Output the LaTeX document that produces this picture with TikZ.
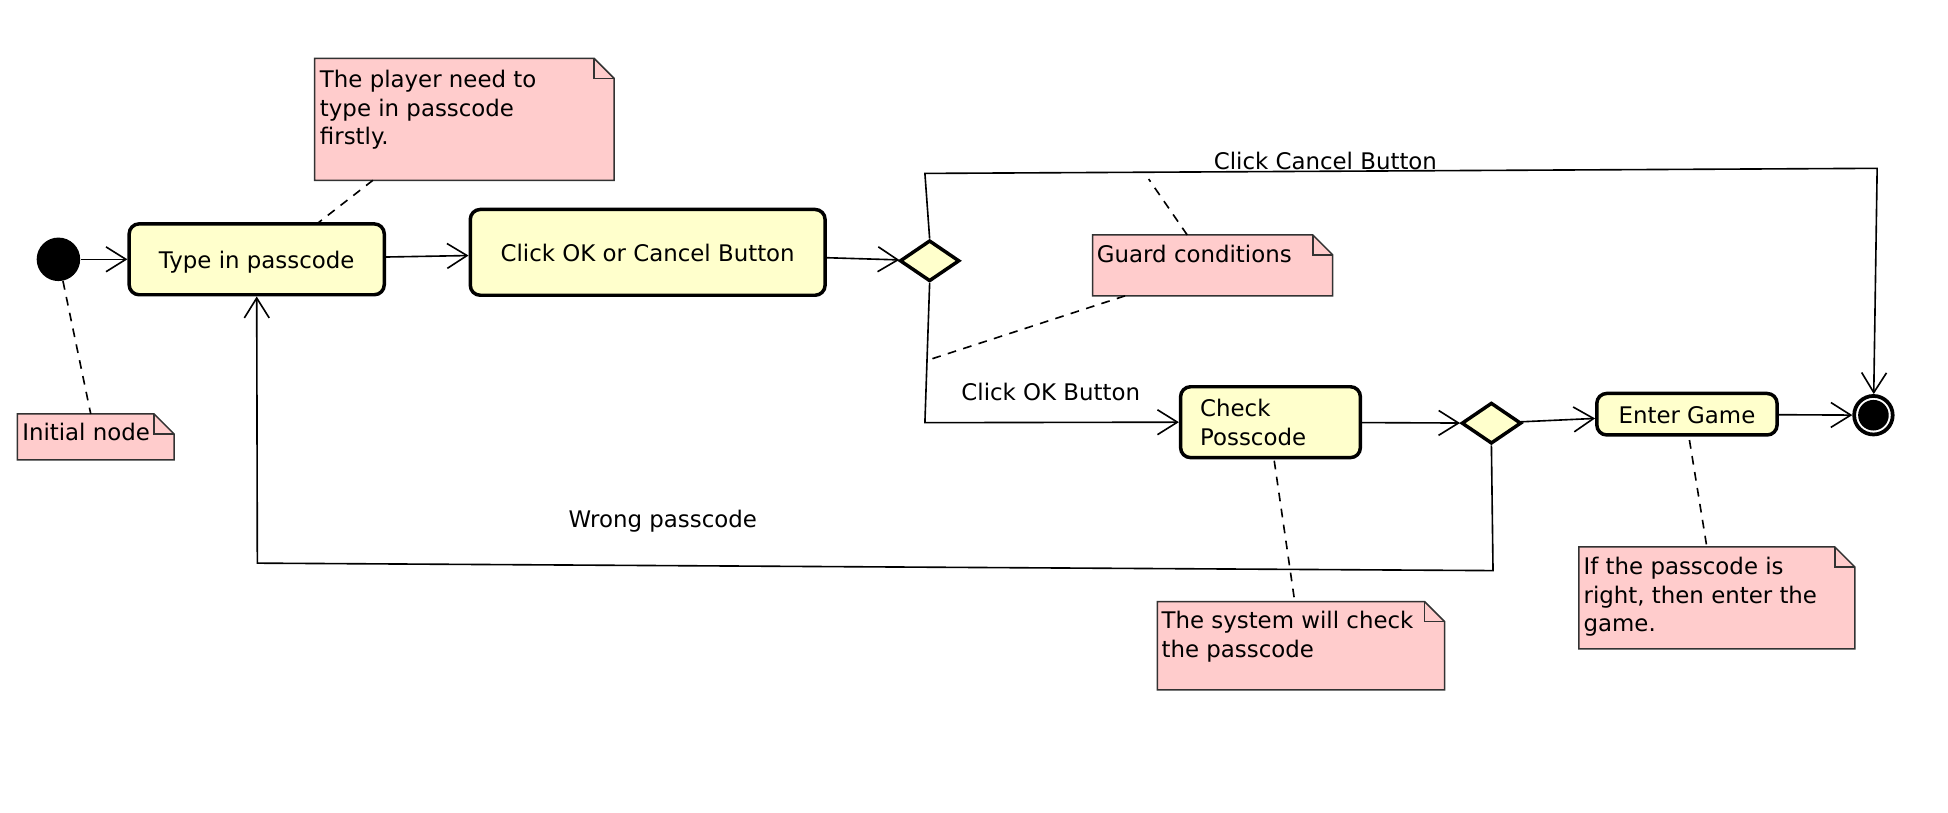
\documentclass[tikz,border=0pt]{standalone}
\usepackage{fontspec}
\setmainfont{DejaVu Sans}
\usetikzlibrary{arrows.meta,shapes.geometric,fit}
\definecolor{actfill}{RGB}{255,255,204}
\definecolor{notefill}{RGB}{255,204,204}
\definecolor{notedraw}{RGB}{50,50,50}
\newcommand\umlnote[5]{%
  \node[inner sep=0pt, outer sep=0pt, fit={(#2,#3) (#4,#5)}] (#1) {};
  \draw[notebody] (#1.north west) -- ([xshift=-8pt]#1.north east) -- ([yshift=-8pt]#1.north east) -- (#1.south east) -- (#1.south west) -- cycle;
  \draw[notebody,fill=none] ([xshift=-8pt]#1.north east) |- ([yshift=-8pt]#1.north east);
}
\begin{document}
\begin{tikzpicture}[x=0.5pt,y=-0.5pt,
  every node/.style={font=\fontsize{9.2}{11.5}\selectfont},
  action/.style={draw, line width=1.4pt, fill=actfill, rounded corners=4pt, inner sep=0pt},
  onelinetext/.style={text height=7.7pt, text depth=0pt},
  decision/.style={diamond, draw, line width=1.4pt, fill=actfill, inner sep=0pt, minimum width=24pt, minimum height=16.5pt},
  initialnode/.style={circle, fill=black, inner sep=0pt, minimum size=17.5pt},
  finalnode/.style={circle, draw, line width=1.5pt, fill=white, inner sep=0pt, minimum size=15.5pt,
    path picture={\fill[black] (path picture bounding box.center) circle (6.15pt);}},
  flow/.style={line width=0.65pt, -{Straight Barb[length=8pt,width=10pt]}},
  anchorline/.style={line width=0.65pt, dash pattern=on 3.5pt off 3pt},
  notebody/.style={draw=notedraw, line width=0.6pt, fill=notefill},
  notetext/.style={anchor=north west, inner sep=0pt, align=left},
  lbl/.style={anchor=base west, inner sep=0pt},
]
\useasboundingbox (0,0) rectangle (1567,653.2);

% notes
\umlnote{n1}{253}{47}{494}{145}
\umlnote{ninit}{14}{333}{140}{370}
\umlnote{nguard}{879}{189}{1072}{238}
\umlnote{nsys}{931}{484}{1162}{555}
\umlnote{nif}{1270}{440}{1492}{522}

\node[notetext] (n1t) at (257,56) {The player need to\\type in passcode\\firstly.};
\node[notetext] (ninitt) at (17.5,340) {Initial node};
\node[notetext] (nguardt) at (882,197) {Guard conditions};
\node[notetext] (nsyst) at (934,491.5) {The system will check\\the passcode};
\node[notetext] (nift) at (1273.5,448) {If the passcode is\\right, then enter the\\game.};

% activity nodes
\node[initialnode] (init) at (47,208.6) {};
\node[action, onelinetext, minimum width=102.6pt, minimum height=28.5pt] (type) at (206.5,208.6) {Type in passcode};
\node[action, onelinetext, minimum width=142.7pt, minimum height=34.5pt] (click) at (521,203) {Click OK or Cancel Button};
\node[decision] (d1) at (747.8,209.8) {};
\node[action, minimum width=72.3pt, minimum height=28.5pt, text width=56.6pt, align=left, inner xsep=7.85pt] (check) at (1022,339.6) {Check\\Posscode};
\node[decision] (d2) at (1199.7,340.4) {};
\node[action, onelinetext, minimum width=72.5pt, minimum height=16.7pt] (enter) at (1357,333.2) {Enter Game};
\node[finalnode] (final) at (1507,334) {};

% bend points
\coordinate (c1) at (744,139.5);
\coordinate (c2) at (1510,135.4);
\coordinate (c3) at (744,340);
\coordinate (c4) at (1201,459);
\coordinate (c5) at (207,453);

% flows
\draw[flow] (init) -- (type);
\draw[flow] (type) -- (click);
\draw[flow] (click) -- (d1);
\draw[flow] (d1.north) -- (c1) -- (c2) -- (final);
\draw[flow] (d1.south) -- (c3) -- (check.west);
\draw[flow] (check) -- (d2);
\draw[flow] (d2) -- (enter);
\draw[flow] (enter) -- (final);
\draw[flow] (d2.south) -- (c4) -- (c5) -- (type.south);

% labels
\node[lbl] (lcancel) at (976,136.2) {Click Cancel Button};
\node[lbl] (lok) at (773,322.3) {Click OK Button};
\node[lbl] (lwrong) at (457,424.2) {Wrong passcode};

% note anchors
\coordinate (ainit) at (73,333);
\coordinate (a1b) at (300,145);
\coordinate (a1t) at (255,180);
\coordinate (ag1) at (955,189);
\coordinate (ag1e) at (924,144);
\coordinate (ag2) at (905,238);
\coordinate (ag2e) at (745.5,290);
\coordinate (as1) at (1025,370.6);
\coordinate (as2) at (1041.5,484);
\coordinate (ai1) at (1359,354);
\coordinate (ai2) at (1373,440);

\draw[anchorline] (init) -- (ainit);
\draw[anchorline] (a1b) -- (a1t);
\draw[anchorline] (ag1) -- (ag1e);
\draw[anchorline] (ag2) -- (ag2e);
\draw[anchorline] (as1) -- (as2);
\draw[anchorline] (ai1) -- (ai2);
\end{tikzpicture}
\end{document}
